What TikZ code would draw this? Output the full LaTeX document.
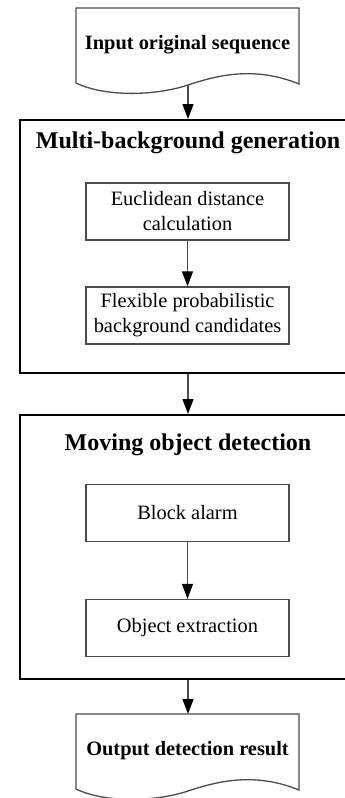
\documentclass[tikz,border=0pt]{standalone}
\usepackage{fontspec}
\setmainfont{Liberation Serif}
\usetikzlibrary{arrows.meta}
\begin{document}
\begin{tikzpicture}[x=1pt,y=-1pt,
  stage/.style={draw=black,line width=2pt,minimum width=336pt,inner sep=0pt},
  stagetitle/.style={inner sep=0pt,font=\fontsize{24}{29}\selectfont\bfseries},
  stepbox/.style={draw=black!70,line width=1.3pt,minimum width=203pt,minimum height=57pt,
    align=center,inner sep=0pt,font=\fontsize{20.4}{25}\selectfont},
  doc/.style={draw=black!70,line width=1.3pt},
  doctext/.style={inner sep=0pt,font=\fontsize{20.4}{25}\selectfont\bfseries},
  flow/.style={draw=black!70,line width=1.3pt,-{Triangle[length=15pt,width=11pt,color=black]}}]
\useasboundingbox (0,0) rectangle (345,798);
\draw [doc] (76,8) -- (76,83) .. controls (105,97) and (155,96) .. (188,85)
  .. controls (218,75) and (255,66) .. (299,84) -- (299,8) -- cycle;
\coordinate (inpend) at (188,85);
\node [doctext] (inp) at (187.5,45) {Input original sequence};
\node [stage,minimum height=253pt] (mbg) at (188,246.5) {};
\node [stagetitle] (mbgtitle) at (188,143) {Multi-background generation};
\node [stepbox] (euc) at (187.5,211.5) {Euclidean distance\\calculation};
\node [stepbox] (flex) at (187.5,315.5) {Flexible probabilistic\\background candidates};
\node [stage,minimum height=264pt] (mod) at (188,547) {};
\node [stagetitle] (modtitle) at (188,445) {Moving object detection};
\node [stepbox] (blk) at (187.5,513) {Block alarm};
\node [stepbox] (obj) at (187.5,628) {Object extraction};
\draw [doc] (76,714) -- (76,789) .. controls (105,803) and (155,802) .. (188,791)
  .. controls (218,781) and (255,772) .. (299,790) -- (299,714) -- cycle;
\coordinate (outtop) at (188,714);
\node [doctext] (out) at (187.5,751) {Output detection result};
\draw [flow] (inpend) -- (inpend |- mbg.north);
\draw [flow] (euc) -- (flex);
\draw [flow] (mbg.south) -- (mod.north);
\draw [flow] (blk) -- (obj);
\draw [flow] (mod.south) -- (outtop);
\end{tikzpicture}
\end{document}
